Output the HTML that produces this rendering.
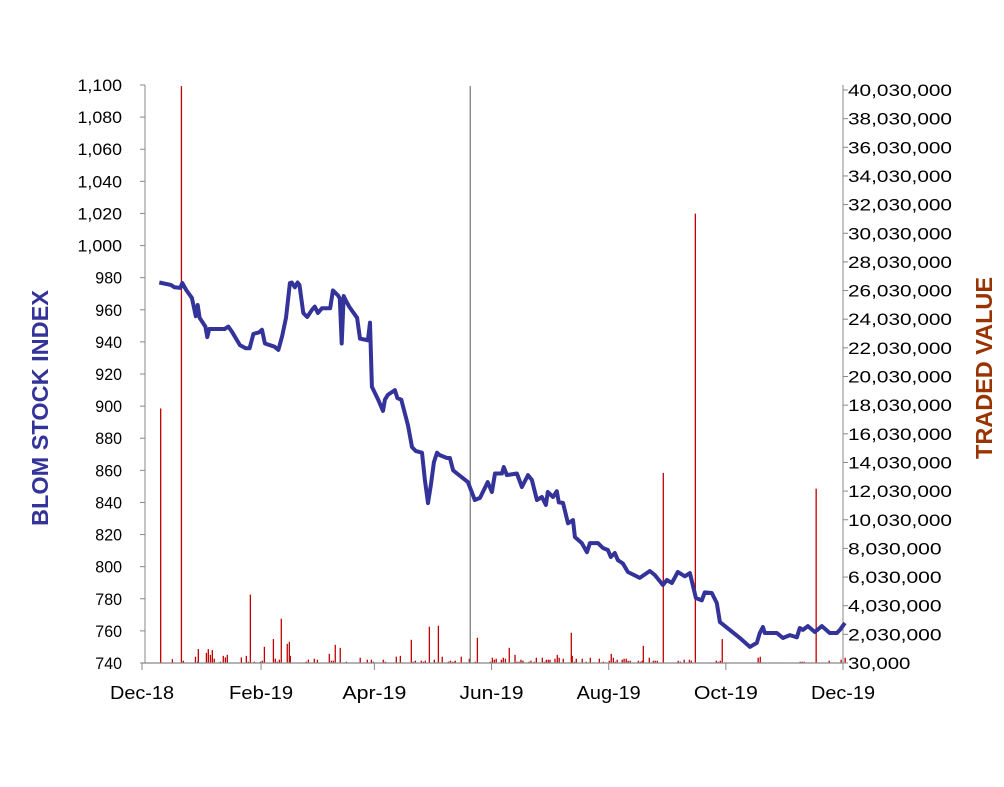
<!DOCTYPE html>
<html><head><meta charset="utf-8"><style>
body{margin:0;background:#fff;}
svg text{font-family:"Liberation Sans",sans-serif;}
</style></head><body>
<svg id="chart" width="1004" height="782" xmlns="http://www.w3.org/2000/svg">
<rect width="1004" height="782" fill="#fff"/>
<g id="bars"></g>
<g id="axes"></g>
<path id="line" fill="none" stroke="#333399" stroke-width="4" stroke-linejoin="round"/>
<text transform="translate(48,408) rotate(-90)" text-anchor="middle" font-size="23" font-weight="bold" fill="#333399" textLength="236" lengthAdjust="spacingAndGlyphs">BLOM STOCK INDEX</text>
<text transform="translate(992,368) rotate(-90)" text-anchor="middle" font-size="23" font-weight="bold" fill="#993300" textLength="182" lengthAdjust="spacingAndGlyphs">TRADED VALUE</text>
</svg>
<script>
const idxDays=[9,15,17,20,21,23,26,28,29,30,33,34,35,38,43,45,47,51,54,56,58,61,62.5,64,69,71,73,75,76,77,78,79.6,81,82,84,86,88.5,90,91.6,93.7,98,99.4,102,103,104,105,106,108,112,113.5,114.5,117.6,118.7,119.7,123,125.5,126.5,128,131.7,133,135,138.5,140.6,142.6,145.8,147.3,148.9,150.4,152,153.6,155,158.8,160.3,162,164,169.7,173.3,176,180,182.2,183.8,187.4,188.4,190,195.2,197.8,201,203,205.6,208.2,210.3,211.3,214,216,217,219.2,221.8,224.4,225.4,229,231.7,233.2,237.4,240,242.6,244.1,246.2,247.8,250.4,253,259.2,264.4,267,271.2,273.3,275.9,279,282.7,285.3,288.4,291.5,293,296.7,299.3,300.9,311.3,316.5,320.1,321.7,323.3,324.3,330.6,333.7,337.3,341,342.5,344.1,346.7,350.3,354,358.1,361.8,363.4,366];
const idxVals=[977,975.5,974,973.6,976.7,972.3,967.4,956,963,955,949.5,943,948,948,948,949.5,946,938,936,936,945,946,947.5,939,937,935,943.7,955,966,976.7,977,974,977,975.4,958,955.5,960,962,958,961,961,972,969,967,939,968.6,966,961.7,955,942,941.8,941,952,912,904,897,904,907,910,905,904,888,874.5,872,871,854,839.6,851,865,871,869.5,867.7,867.7,860,858,852.7,841.5,842.8,852.7,846.5,858,858,862,857,858,849.6,857,854,841.5,843.4,838.4,846.5,843.4,847,840,839.7,827,829,818.5,814.7,809,814.7,814.7,811.6,810.4,806,808.5,804,802,796.7,793,797.3,794.8,788.6,791.7,789.8,796.7,794,796,780.5,779,784,783.6,777.4,765.5,755.6,750,752.5,758.7,762.4,758.7,758.7,755.6,757.4,756,761.8,760.6,763,759.3,763,758.7,758.7,760.6,765];
const volDays=[9.7,15.8,20.5,21.5,22.7,23.8,27.8,29,29.3,33.5,34.5,35.6,36.6,37.6,40.8,42.3,43.4,44.4,48.6,51.7,54.3,55.3,56.4,58.5,61.6,62.6,63.7,65.2,68.4,69.4,70.4,71.5,72.5,75.6,76.7,77.2,78.2,82.4,84.5,85.5,86.6,89.7,91.3,93.3,97.5,98.6,99.6,100.6,103.2,106.4,110.5,112.6,113.6,117.3,119.4,120.4,125.6,126.6,127.2,132.4,134.5,135.5,140.2,141.2,142.3,145.4,146.5,147.5,149.6,152.2,153.2,154.3,156.3,159.5,160.5,161.5,162.6,163.1,166.2,170.4,170.9,173.5,174.6,175.6,177.2,181.3,182.4,183.4,184.4,187.1,188.1,189.2,191.2,194.2,195.2,196.3,197.3,198.3,201.5,202.5,204.2,205.3,208.4,209.4,210.5,211.5,212.4,215,216.2,217.2,219.3,222.4,223.5,224,225.1,226.1,229.2,231.3,233.4,238.1,240.2,243.3,244.3,245.4,246.4,247.4,250,251,252.1,253.1,254.2,258.4,259.4,260.4,261,264.1,266.2,267.2,268.3,271.4,278.2,279.2,280.3,282.3,285,286,288.1,295.3,296.4,299,300,301.1,302.1,320.8,321.9,322.9,330.2,342.7,343.7,344.8,347.9,349,351,357.8,364,366.1];
const volVals=[17.8,0.3,40.3,0.19,0.07,0.07,0.47,0.12,1.0,0.74,1.0,0.6,0.93,0.33,0.12,0.53,0.42,0.6,0.07,0.42,0.53,0.12,4.8,0.12,0.12,0.19,1.16,0.07,1.7,0.33,0.12,0.26,3.12,1.37,1.51,0.53,0.07,0.07,0.07,0.12,0.26,0.33,0.26,0.07,0.67,0.19,0.19,1.3,1.09,0.12,0.07,0.07,0.4,0.26,0.26,0.12,0.26,0.12,0.07,0.47,0.53,0.07,1.65,0.12,0.19,0.19,0.12,0.19,2.56,0.26,0.07,2.63,0.47,0.12,0.19,0.12,0.12,0.19,0.47,0.33,40.3,0.12,1.79,0.07,0.07,0.12,0.4,0.26,0.33,0.26,0.4,0.33,1.09,0.6,0.12,0.12,0.26,0.19,0.12,0.19,0.12,0.4,0.4,0.12,0.26,0.26,0.26,0.33,0.6,0.4,0.33,0.07,2.14,0.53,0.12,0.33,0.33,0.12,0.4,0.33,0.12,0.19,0.67,0.4,0.12,0.26,0.26,0.33,0.33,0.19,0.19,0.19,0.12,0.19,1.23,0.4,0.19,0.19,0.19,13.3,0.07,0.19,0.12,0.26,0.26,0.19,31.4,0.07,0.07,0.19,0.12,0.19,1.7,0.4,0.47,0.07,0.07,0.12,0.12,0.12,0.07,0.07,12.2,0.19,0.26,0.4];
const leftTicks=[740,760,780,800,820,840,860,880,900,920,940,960,980,1000,1020,1040,1060,1080,1100];
const rightTicks=[0.03,2.03,4.03,6.03,8.03,10.03,12.03,14.03,16.03,18.03,20.03,22.03,24.03,26.03,28.03,30.03,32.03,34.03,36.03,38.03,40.03];
const xLabels=["Dec-18","Feb-19","Apr-19","Jun-19","Aug-19","Oct-19","Dec-19"];
const xLabelDays=[0,62,121,182,243,304,365];

const X0=142,X1=843,Y0=663,YT=85;
const x=d=>X0+d*(X1-X0)/365;
const yL=v=>Y0-(v-740)*(Y0-YT)/360;
const yR=m=>Y0+0.43-m*14.325;
const NS="http://www.w3.org/2000/svg";
function mk(tag,attrs,parent){const e=document.createElementNS(NS,tag);for(const k in attrs)e.setAttribute(k,attrs[k]);parent.appendChild(e);return e;}
const bars=document.getElementById('bars'),axes=document.getElementById('axes');
volDays.forEach((d,i)=>{
  const top=Math.max(YT,yR(volVals[i]));
  const r=mk('rect',{x:x(d)-0.6,y:top,width:1.3,height:Y0-top,fill:(volVals[i]>35&&d>150&&d<200)?'#808080':'#c00000'},bars);
  
  
});
let p='';idxDays.forEach((d,i)=>{p+=(i?'L':'M')+x(d).toFixed(1)+','+yL(idxVals[i]).toFixed(1);});
document.getElementById('line').setAttribute('d',p);
mk('line',{x1:145,y1:YT,x2:145,y2:Y0,stroke:'#888','stroke-width':1},axes);
mk('line',{x1:X1,y1:YT,x2:X1,y2:Y0,stroke:'#888','stroke-width':1},axes);
mk('line',{x1:X0,y1:Y0,x2:X1,y2:Y0,stroke:'#888','stroke-width':1.3},axes);
leftTicks.forEach(v=>{
  const y=yL(v);
  mk('line',{x1:140,y1:y,x2:145,y2:y,stroke:'#888'},axes);
  const s=v.toLocaleString('en-US');
  const t=mk('text',{x:122,y:y+6,'text-anchor':'end','font-size':17,fill:'#000',textLength:s.length*8.9,lengthAdjust:'spacingAndGlyphs'},axes);
  
  
  t.textContent=s;
});
rightTicks.forEach(m=>{
  const y=yR(m);
  mk('line',{x1:X1,y1:y,x2:X1+5,y2:y,stroke:'#888'},axes);
  const s=Math.round(m*1e6).toLocaleString('en-US');
  const t=mk('text',{x:848,y:y+6,'font-size':17,fill:'#000',textLength:s.length*10.4,lengthAdjust:'spacingAndGlyphs'},axes);
  
  
  t.textContent=s;
});
xLabelDays.forEach((d,i)=>{
  const xx=x(d);
  mk('line',{x1:xx,y1:Y0,x2:xx,y2:Y0+7,stroke:'#888'},axes);
  const t=mk('text',{x:xx,y:699,'text-anchor':'middle','font-size':18,fill:'#000',textLength:64,lengthAdjust:'spacingAndGlyphs'},axes);
  
  
  t.textContent=xLabels[i];
});
</script>
</body></html>
